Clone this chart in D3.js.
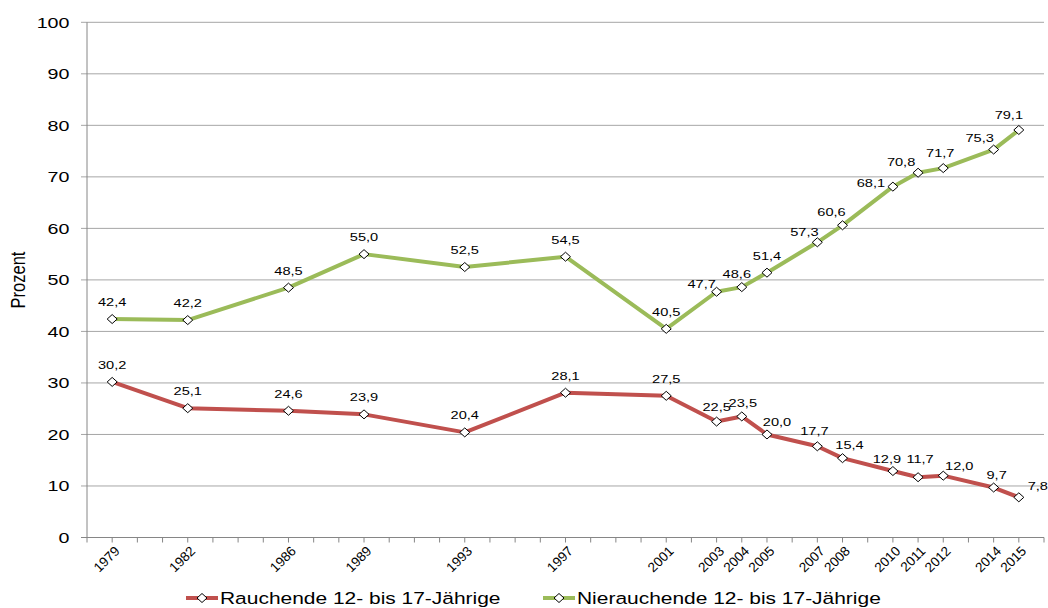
<!DOCTYPE html>
<html>
<head>
<meta charset="utf-8">
<script src="https://cdn.jsdelivr.net/npm/d3@7"></script>
<style>
  body { margin: 0; background: #fff; }
  text { font-family: "Liberation Sans", Arial, sans-serif; fill: #000; }
</style>
</head>
<body>
<div id="chart"></div>
<script>
// Jahre und Werte (Prozent)
const years = [1979, 1982, 1986, 1989, 1993, 1997, 2001, 2003, 2004, 2005, 2007, 2008, 2010, 2011, 2012, 2014, 2015];
const rauchende = [30.2, 25.1, 24.6, 23.9, 20.4, 28.1, 27.5, 22.5, 23.5, 20.0, 17.7, 15.4, 12.9, 11.7, 12.0, 9.7, 7.8];
const nierauchende = [42.4, 42.2, 48.5, 55.0, 52.5, 54.5, 40.5, 47.7, 48.6, 51.4, 57.3, 60.6, 68.1, 70.8, 71.7, 75.3, 79.1];
const seriesNames = ["Rauchende 12- bis 17-Jährige", "Nierauchende 12- bis 17-Jährige"];
const yTicks = [0, 10, 20, 30, 40, 50, 60, 70, 80, 90, 100];
const yTitle = "Prozent";

const colors = ["#c0504d", "#9bbb59"];
const sx = 1.27; // the original picture is stretched horizontally

// label nudges (dx, dy of label centre vs point), default is [0, -17]
const nudge = [
  {2003: [0, -15], 2004: [1, -13], 2005: [10, -12], 2007: [-3, -15], 2008: [7, -13], 2010: [-6, -12],
   2011: [2, -18], 2012: [16, -10], 2014: [3, -13], 2015: [19, -11]},
  {2003: [-15, -8], 2004: [-5, -13], 2007: [-13, -10], 2008: [-11, -13], 2010: [-22, -4],
   2011: [-17, -11], 2012: [-3, -15], 2014: [-14, -12], 2015: [-10, -15]}
];

const W = 1048, H = 608;
const svg = d3.select("#chart").append("svg")
  .attr("width", W).attr("height", H);

let x = d3.scaleLinear().domain([1978, 2016]).range([87, 1044]);
let y = d3.scaleLinear().domain([0, 100]).range([537.5, 22.3]);

// grid lines + y labels
svg.append("g").selectAll("line")
  .data(yTicks.filter(d => d > 0))
  .join("line")
  .attr("x1", 81).attr("x2", 1044)
  .attr("y1", d => y(d)).attr("y2", d => y(d))
  .attr("stroke", "#a6a6a6").attr("stroke-width", 1);

svg.append("g").selectAll("text")
  .data(yTicks)
  .join("text")
  .attr("transform", d => "translate(69.5," + y(d) + ") scale(" + sx + ",1)")
  .attr("text-anchor", "end")
  .attr("dy", "0.35em")
  .style("font-size", "15.5px")
  .text(d => d);

// axes lines
svg.append("line")
  .attr("x1", 87).attr("x2", 87).attr("y1", y(100)).attr("y2", y(0))
  .attr("stroke", "#868686");
svg.append("line")
  .attr("x1", 81).attr("x2", 1044).attr("y1", y(0)).attr("y2", y(0))
  .attr("stroke", "#868686");

// x ticks every year
svg.append("g").selectAll("line")
  .data(d3.range(1978, 2017))
  .join("line")
  .attr("x1", d => x(d)).attr("x2", d => x(d))
  .attr("y1", y(0)).attr("y2", y(0) + 5)
  .attr("stroke", "#868686");

svg.append("g").selectAll("text")
  .data(years)
  .join("text")
  .attr("transform", d => "translate(" + (x(d) + 5) + "," + (y(0) + 11) + ") rotate(-45)")
  .attr("text-anchor", "end")
  .attr("dy", "0.35em")
  .style("font-size", "13.5px")
  .text(d => d);

// y title
svg.append("text")
  .attr("transform", "translate(18,280) scale(" + sx + ",1) rotate(-90)")
  .attr("text-anchor", "middle")
  .attr("dy", "0.35em")
  .style("font-size", "16.5px")
  .text(yTitle);

const diamond = "M0,-4.5L5,0L0,4.5L-5,0Z";
const fmt = v => d3.format(".1f")(v).replace(".", ",");
const line = d3.line().x(d => x(d.year)).y(d => y(d.value));

[rauchende, nierauchende].forEach((vals, si) => {
  const pts = years.map((yr, i) => ({year: yr, value: vals[i]}));
  const g = svg.append("g");
  g.append("path")
    .datum(pts)
    .attr("d", line)
    .attr("fill", "none")
    .attr("stroke", colors[si])
    .attr("stroke-width", 4)
    .attr("stroke-linejoin", "round");
  g.selectAll(".pt")
    .data(pts)
    .join("path")
    .attr("class", "pt")
    .attr("transform", d => "translate(" + x(d.year) + "," + y(d.value) + ")")
    .attr("d", diamond)
    .attr("fill", "#fff")
    .attr("stroke", "#000")
    .attr("stroke-width", 1);
  g.selectAll(".lbl")
    .data(pts)
    .join("text")
    .attr("class", "lbl")
    .attr("transform", d => {
      const n = nudge[si][d.year] || [0, -17];
      return "translate(" + (x(d.year) + n[0]) + "," + (y(d.value) + n[1]) + ") scale(" + sx + ",1)";
    })
    .attr("text-anchor", "middle")
    .attr("dy", "0.35em")
    .style("font-size", "11.5px")
    .text(d => fmt(d.value));
});

// legend
const legendX = [186, 543];
seriesNames.forEach((name, si) => {
  const lg = svg.append("g").attr("transform", "translate(" + legendX[si] + ",598)");
  lg.append("line")
    .attr("x1", 0).attr("x2", 32).attr("y1", 0).attr("y2", 0)
    .attr("stroke", colors[si]).attr("stroke-width", 4);
  lg.append("path")
    .attr("transform", "translate(16,0)")
    .attr("d", diamond)
    .attr("fill", "#fff").attr("stroke", "#000");
  lg.append("text")
    .attr("transform", "translate(34,0) scale(" + sx + ",1)")
    .attr("dy", "0.35em")
    .style("font-size", "16.5px")
    .text(name);
});
</script>
</body>
</html>
